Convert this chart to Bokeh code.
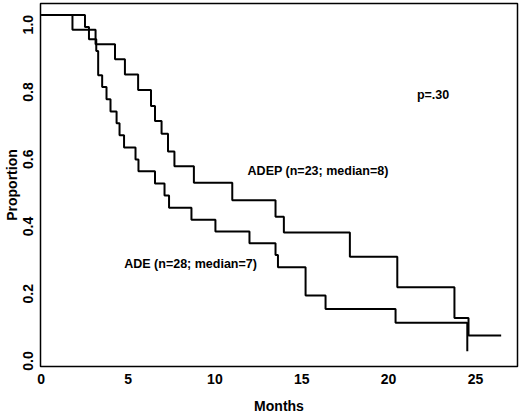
import math
from bokeh.plotting import figure
from bokeh.models import Range1d, FixedTicker, Label, NumeralTickFormatter
from bokeh.embed import file_html
from bokeh.resources import INLINE

# Kaplan-Meier estimates
ade_months = [0, 2.52, 2.75, 3.17, 3.28, 3.51, 3.76, 3.99, 4.34, 4.51, 4.77, 5.43, 5.60,
              6.55, 7.10, 7.36, 8.65, 10.03, 11.99, 13.49, 13.63, 15.22, 16.37, 20.40, 24.53]
ade_surv = [1.0, 0.964, 0.928, 0.893, 0.821, 0.786, 0.749, 0.713, 0.678, 0.642, 0.606, 0.570, 0.535,
            0.499, 0.463, 0.427, 0.391, 0.356, 0.321, 0.286, 0.250, 0.166, 0.126, 0.085, 0.0]

adep_months = [0, 1.80, 3.13, 4.25, 4.82, 5.58, 6.32, 6.55, 6.93, 7.30, 7.67, 8.79,
               11.00, 13.49, 13.97, 17.77, 20.50, 23.79, 24.60, 26.48]
adep_surv = [1.0, 0.956, 0.913, 0.868, 0.823, 0.777, 0.729, 0.685, 0.647, 0.594, 0.550, 0.501,
             0.449, 0.400, 0.353, 0.281, 0.190, 0.099, 0.047, 0.047]

xticks = [0, 5, 10, 15, 20, 25]
xtick_labels = ["0", "5", "10", "15", "20", "25"]
yticks = [0, 0.2, 0.4, 0.6, 0.8, 1]
ytick_labels = ["0.0", "0.2", "0.4", "0.6", "0.8", "1.0"]

x_title = "Months"
y_title = "Proportion"

annotations = [
    ("p=.30", 22.56, 0.762),
    ("ADEP (n=23; median=8)", 15.94, 0.537),
    ("ADE (n=28; median=7)", 8.60, 0.259),
]

FONT = "Liberation Sans"

p = figure(width=520, height=416, output_backend="svg", toolbar_location=None,
           x_range=Range1d(-0.040, 27.42), y_range=Range1d(-0.0453, 1.034),
           min_border_left=40, min_border_right=3, min_border_top=3, min_border_bottom=48)

p.step(ade_months, ade_surv, mode="after", line_width=2, line_color="black")
p.step(adep_months, adep_surv, mode="after", line_width=2, line_color="black")

for txt, x, y in annotations:
    p.add_layout(Label(x=x, y=y, text=txt, text_align="center", text_baseline="middle",
                       text_font=FONT, text_font_style="bold", text_font_size="12.5px",
                       text_color="black"))

p.xaxis.ticker = FixedTicker(ticks=xticks)
p.xaxis.major_label_overrides = dict(zip(xticks, xtick_labels))
p.yaxis.ticker = FixedTicker(ticks=yticks)
p.yaxis.formatter = NumeralTickFormatter(format="0.0")
p.yaxis.major_label_overrides = dict(zip(yticks, ytick_labels))

for ax in (p.xaxis[0], p.yaxis[0]):
    ax.axis_line_color = None
    ax.major_tick_line_color = None
    ax.minor_tick_line_color = None
    ax.major_tick_out = 0
    ax.major_tick_in = 0
    ax.major_label_text_font = FONT
    ax.major_label_text_font_style = "bold"
    ax.major_label_text_font_size = "14px"
    ax.major_label_text_color = "black"
    ax.axis_label_text_font = FONT
    ax.axis_label_text_font_style = "bold"
    ax.axis_label_text_font_size = "14px"
    ax.axis_label_text_color = "black"

p.xaxis.axis_label = x_title
p.xaxis.major_label_standoff = 7
p.xaxis.axis_label_standoff = 11
p.yaxis.axis_label = y_title
p.yaxis.major_label_orientation = math.pi / 2
p.yaxis.major_label_standoff = 12
p.yaxis.axis_label_standoff = -4

p.grid.visible = False
p.outline_line_color = "black"
p.outline_line_width = 1.5
p.outline_line_alpha = 1.0
p.background_fill_color = "white"
p.border_fill_color = "white"

open("out.html", "w").write(file_html(p, INLINE))
